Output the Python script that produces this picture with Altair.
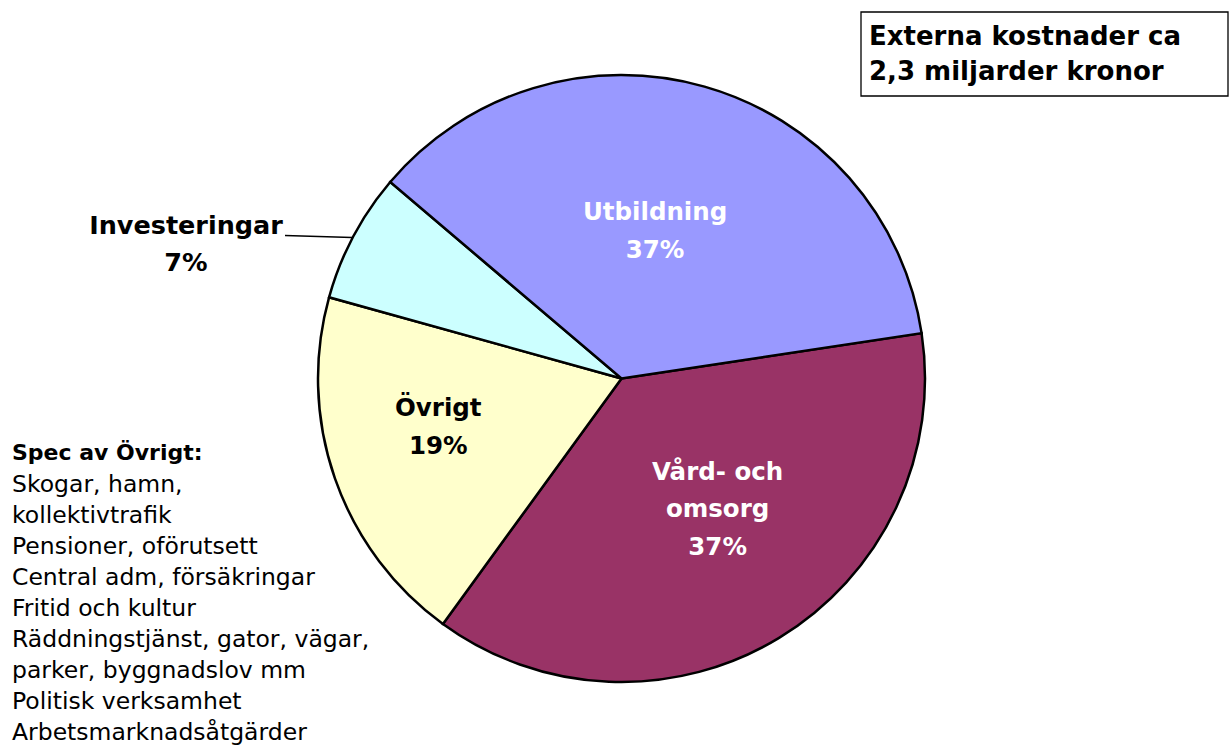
import math
import altair as alt
import pandas as pd

# ---- data ----
categories = ["Vård- och omsorg", "Övrigt", "Investeringar", "Utbildning"]
shares = [37.4, 19.3, 6.9, 36.4]
pct_labels = ["37%", "19%", "7%", "37%"]
colors = ["#993366", "#FFFFCC", "#CCFFFF", "#9999FF"]

title_lines = ["Externa kostnader ca", "2,3 miljarder kronor"]
spec_header = "Spec av Övrigt:"
spec_lines = [
    "Skogar, hamn,",
    "kollektivtrafik",
    "Pensioner, oförutsett",
    "Central adm, försäkringar",
    "Fritid och kultur",
    "Räddningstjänst, gator, vägar,",
    "parker, byggnadslov mm",
    "Politisk verksamhet",
    "Arbetsmarknadsåtgärder",
]

df = pd.DataFrame({"cat": categories, "value": shares, "pct": pct_labels,
                   "order": list(range(len(categories)))})
total = float(sum(shares))
df["mid"] = df["value"].cumsum() - df["value"] / 2

FONT = "DejaVu Sans"
W, H = 1231, 748
CX, CY, R = 621.5, 378.5, 303.5
START = math.radians(81.4)
theta_scale = alt.Scale(domain=[0, total], range=[START, START + 2 * math.pi])

base = alt.Chart(df)

pie = base.mark_arc(radius=R, stroke="black", strokeWidth=2.5).encode(
    theta=alt.Theta("value:Q", stack=True, scale=theta_scale),
    order=alt.Order("order:Q"),
    color=alt.Color("cat:N", scale=alt.Scale(domain=categories, range=colors), legend=None),
    x=alt.value(CX),
    y=alt.value(CY),
)

def slice_label(cat, radius, text, color, dx=0, dy=0):
    return base.transform_filter(alt.datum.cat == cat).transform_calculate(
        lbl=text
    ).mark_text(
        radius=radius, font=FONT, fontSize=24.5, fontWeight="bold", color=color,
        lineBreak="\n", lineHeight=37.5, align="center", baseline="middle", dx=dx, dy=dy,
    ).encode(
        theta=alt.Theta("mid:Q", stack=None, scale=theta_scale),
        text="lbl:N",
        x=alt.value(CX),
        y=alt.value(CY),
    )

lab_utb = slice_label("Utbildning", 152, "'Utbildning\\n' + datum.pct", "white", dx=-8, dy=-19)
lab_vard = slice_label("Vård- och omsorg", 162, "'Vård- och\\nomsorg\\n' + datum.pct", "white", dx=12, dy=-44)
lab_ovr = slice_label("Övrigt", 176, "'Övrigt\\n' + datum.pct", "black", dx=-17, dy=-27)

inv_label = base.transform_filter(alt.datum.cat == "Investeringar").transform_calculate(
    lbl="'Investeringar\\n' + datum.pct"
).mark_text(
    font=FONT, fontSize=25.5, fontWeight="bold", color="black",
    lineBreak="\n", lineHeight=37, align="center", baseline="middle",
).encode(text="lbl:N", x=alt.value(186), y=alt.value(226))

leader = alt.Chart(pd.DataFrame({"k": [0]})).mark_rule(color="black", strokeWidth=1.3).encode(
    x=alt.value(285), x2=alt.value(352), y=alt.value(235.5), y2=alt.value(237.5)
)

box = alt.Chart(pd.DataFrame({"k": [0]})).mark_rect(
    fill="white", stroke="black", strokeWidth=1.3
).encode(x=alt.value(861), x2=alt.value(1228), y=alt.value(12), y2=alt.value(96))

title_txt = alt.Chart(pd.DataFrame({"t": ["\n".join(title_lines)]})).mark_text(
    font=FONT, fontSize=26, fontWeight="bold", color="black", align="left",
    baseline="middle", lineBreak="\n", lineHeight=35,
).encode(text="t:N", x=alt.value(869), y=alt.value(37))

spec_head = alt.Chart(pd.DataFrame({"t": [spec_header]})).mark_text(
    font=FONT, fontSize=22, fontWeight="bold", color="black", align="left", baseline="middle",
).encode(text="t:N", x=alt.value(12), y=alt.value(453))

spec_body = alt.Chart(pd.DataFrame({"t": ["\n".join(spec_lines)]})).mark_text(
    font=FONT, fontSize=23.5, color="black", align="left", baseline="middle",
    lineBreak="\n", lineHeight=31,
).encode(text="t:N", x=alt.value(12), y=alt.value(485))

chart = alt.layer(
    pie, lab_utb, lab_vard, lab_ovr, leader, inv_label, box, title_txt, spec_head, spec_body
).properties(
    width=W, height=H, autosize=alt.AutoSizeParams(type="none"), padding=0,
    background="white",
).configure_view(stroke=None)

chart.save("out.html", embed_options={"renderer": "svg", "actions": False})
